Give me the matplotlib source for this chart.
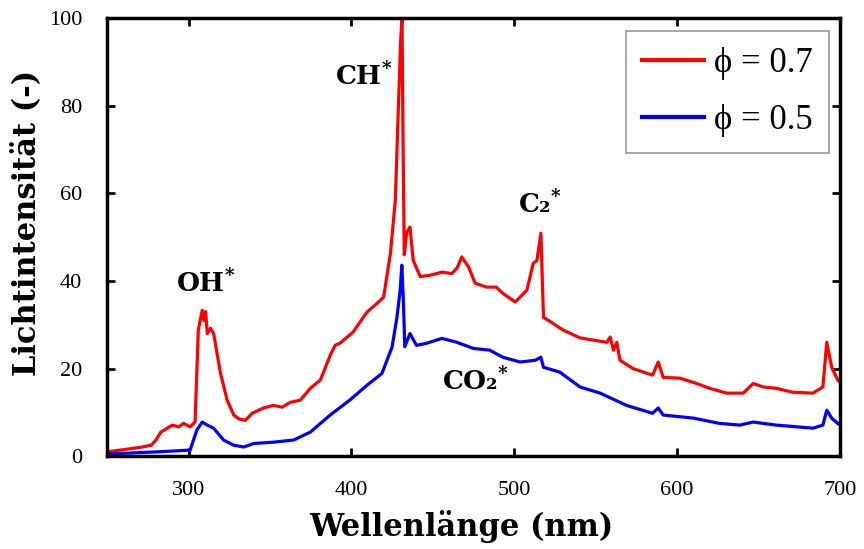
import matplotlib
matplotlib.use("Agg")
import matplotlib.pyplot as plt

# --- data ---
wl_07 = [250, 260, 270, 277, 280, 283, 287, 290, 294, 297, 301, 304, 306, 308.4, 309.5, 310.5,
         311.5, 313.5, 315.4, 319.6, 323.7, 327.8, 331, 335, 339, 346, 352, 357.5, 362.5, 368.7,
         374.8, 381, 387, 390, 393, 401, 409.6, 415.8, 419.8, 424, 427, 429, 430.3, 431.1, 431.8,
         432.5, 434, 436, 438, 442.3, 448.4, 455.6, 461.7, 465, 467.8, 472, 476, 483, 489, 493,
         500.6, 507.8, 511.7, 514, 516.4, 518, 521, 530, 540.5, 548.7, 557, 559, 561, 563, 565,
         573, 585, 588.5, 591.5, 602, 612, 620, 630.5, 640.7, 646.8, 653, 661, 671, 683.5, 689.6,
         692, 695, 698.7, 700]
int_07 = [1, 1.5, 2, 2.5, 3.7, 5.5, 6.4, 7.1, 6.7, 7.5, 6.7, 7.8, 28.8, 33.3, 31, 33,
          28, 29.2, 28, 19, 12.8, 9.4, 8.5, 8.2, 9.8, 11, 11.6, 11.2, 12.3, 12.8,
          15.5, 17.4, 23, 25.3, 25.8, 28.3, 32.9, 34.9, 36.3, 46.3, 58.4, 81, 95, 100, 70,
          46, 51, 52.3, 44.7, 41, 41.3, 42, 41.7, 43, 45.5, 43.2, 39.5, 38.6, 38.6, 37.2,
          35.2, 37.9, 44, 44.7, 50.9, 31.7, 31, 28.8, 27, 26.5, 26, 27.2, 24.2, 26, 21.9,
          20, 18.5, 21.5, 18, 17.8, 16.6, 15.5, 14.4, 14.4, 16.6, 15.8, 15.5, 14.6, 14.4, 15.8,
          26, 20.3, 17.4, 17]

wl_05 = [250, 281, 301, 305, 308.4, 311.5, 315.4, 321.5, 327.8, 334, 340, 352, 364.6, 374.8,
         387, 399, 409.6, 418.8, 425, 428, 430, 431, 432, 432.8, 436, 440, 446.4, 455.6, 464.8,
         475, 485, 493, 503.6, 513, 516.4, 518, 528, 540.5, 552.8, 569, 585, 588.5, 591.5, 610,
         626, 638.6, 646.8, 661, 683.5, 689.6, 692, 695, 698.7, 700]
int_05 = [0.5, 1, 1.4, 5.9, 7.8, 7.1, 6.4, 3.7, 2.5, 2.1, 2.9, 3.2, 3.7, 5.5,
          9.4, 12.8, 16.2, 18.9, 24.9, 31.7, 38, 43.6, 35, 25, 28, 25.3, 25.8, 26.9, 26,
          24.6, 24.2, 22.6, 21.5, 21.9, 22.6, 20.3, 19.2, 15.8, 14.4, 11.6, 9.8, 11, 9.4, 8.7,
          7.5, 7.1, 7.8, 7.1, 6.4, 7.1, 10.5, 8.7, 7.5, 7.2]

x_ticks = [300, 400, 500, 600, 700]
y_ticks = [0, 20, 40, 60, 80, 100]
labels = ["ϕ = 0.7", "ϕ = 0.5"]
colors = ["#ff0000", "#0000ff"]

# species labels: (text, left x, baseline y)
ann_text = ["OH", "CH", "C₂", "CO₂"]
ann_x = [292.6, 390.2, 502.5, 455.6]
ann_y = [37.4, 84.7, 55.5, 15.1]

serif = ["Liberation Serif", "DejaVu Serif"]
dserif = ["DejaVu Serif"]
plt.rcParams["mathtext.fontset"] = "dejavuserif"

fig = plt.figure(figsize=(8.64, 5.49), dpi=100)
ax = fig.add_axes([0.124, 0.169, 0.848, 0.798])

ax.plot(wl_07, int_07, color=colors[0], lw=2.3, label=labels[0])
ax.plot(wl_05, int_05, color=colors[1], lw=2.3, label=labels[1])

ax.set_xlim(250, 700)
ax.set_ylim(0, 100)
ax.set_xticks(x_ticks)
ax.set_yticks(y_ticks)
ax.tick_params(direction="in", length=6, width=2, top=True, right=True, labelsize=16)
ax.tick_params(axis="y", pad=18)
ax.tick_params(axis="x", pad=18)
for lab in ax.get_xticklabels() + ax.get_yticklabels():
    lab.set_family(serif)
for sp in ax.spines.values():
    sp.set_linewidth(2.5)

ax.set_xlabel("Wellenlänge (nm)", fontsize=22, family=dserif, fontweight="bold")
ax.set_ylabel("Lichtintensität (-)", fontsize=22, family=dserif, fontweight="bold")
ax.xaxis.set_label_coords(0.484, -0.123)
ax.yaxis.set_label_coords(-0.089, 0.532)

for name, xx, yy in zip(ann_text, ann_x, ann_y):
    ax.text(xx, yy, name + r"$^{\mathbf{*}}$", ha="left", va="baseline", fontsize=19,
            fontweight="bold", family=dserif)

leg = ax.legend(loc="upper right", bbox_to_anchor=(0.985, 0.970), borderaxespad=0,
                prop={"family": serif, "size": 25},
                fancybox=False, framealpha=1, edgecolor="#999999", handlelength=1.8,
                borderpad=0.45, labelspacing=0.7, handletextpad=0.3)
leg.get_frame().set_linewidth(1.2)
for ln in leg.get_lines():
    ln.set_linewidth(3)

fig.savefig("out.png", dpi=100)
